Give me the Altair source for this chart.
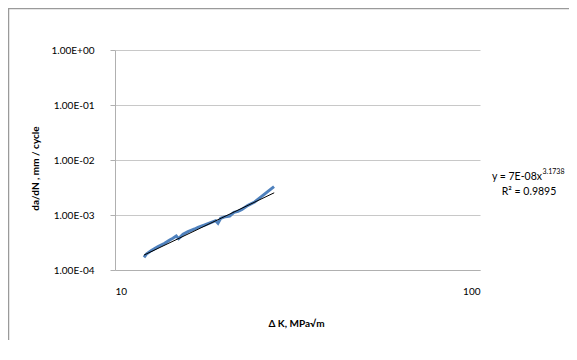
import altair as alt
import pandas as pd

dk = [12.01, 12.19, 12.58, 13.12, 13.68, 14.12, 14.41, 14.72, 14.94, 15.36, 15.85, 16.53,
      16.88, 17.61, 18.36, 18.87, 19.15, 19.48, 20.06, 20.62, 21.18, 21.73, 22.28, 23.14,
      24.13, 25.17, 26.25, 27.27]
dadn = [1.70e-4, 1.95e-4, 2.25e-4, 2.66e-4, 3.05e-4, 3.51e-4, 3.77e-4, 4.15e-4, 3.71e-4,
        4.45e-4, 4.98e-4, 5.57e-4, 5.97e-4, 6.58e-4, 7.36e-4, 7.88e-4, 7.10e-4, 8.70e-4,
        9.33e-4, 9.59e-4, 1.118e-3, 1.166e-3, 1.268e-3, 1.499e-3, 1.723e-3, 2.154e-3,
        2.694e-3, 3.274e-3]

# Power trendline end points
trend_x = [12.0, 27.3]
trend_y = [1.864e-4, 2.534e-3]

x_ticks = [10, 100]
y_ticks = [1e-4, 1e-3, 1e-2, 1e-1, 1]

eq_main = "y = 7E-08x"
eq_exp = "3.1738"
r2_text = "R² = 0.9895"

FONT = "Lato"

df = pd.DataFrame({"dk": dk, "dadn": dadn})
tf = pd.DataFrame({"dk": trend_x, "dadn": trend_y})

xscale = alt.Scale(type="log", domain=[10, 100])
yscale = alt.Scale(type="log", domain=[1e-4, 1])

xaxis = alt.Axis(values=x_ticks, format="d", grid=False, ticks=False,
                 domainColor="#b0b0b0", labelPadding=16, labelFontSize=10,
                 labelColor="#000000", labelFont=FONT,
                 title="Δ K,  MPa√m", titleFont=FONT, titleFontSize=10,
                 titleFontWeight="bold", titleColor="#000000",
                 titleX=181, titleY=53, titleBaseline="middle", titleAlign="center")
yaxis = alt.Axis(values=y_ticks,
                 labelExpr="'1.00E' + (round(log(datum.value)/LN10) < 0 ? '-' : '+') + '0' + abs(round(log(datum.value)/LN10))",
                 grid=True, gridColor="#c8c8c8", domainColor="#b0b0b0",
                 tickColor="#b0b0b0", tickSize=5, labelPadding=16,
                 labelFontSize=10, labelColor="#000000", labelFont=FONT,
                 title="da/dN , mm / cycle", titleFont=FONT, titleFontSize=10,
                 titleFontWeight="bold", titleColor="#000000",
                 titleX=-80, titleY=118, titleBaseline="middle", titleAlign="center",
                 titleAngle=270)

data_line = alt.Chart(df).mark_line(color="#4f81bd", strokeWidth=3).encode(
    x=alt.X("dk:Q", scale=xscale, axis=xaxis),
    y=alt.Y("dadn:Q", scale=yscale, axis=yaxis),
)

trend_line = alt.Chart(tf).mark_line(color="#000000", strokeWidth=1).encode(
    x=alt.X("dk:Q", scale=xscale),
    y=alt.Y("dadn:Q", scale=yscale),
)

eq1 = alt.Chart(pd.DataFrame({"t": [eq_main]})).mark_text(
    align="right", baseline="middle", font=FONT, fontSize=10.5, color="#000000"
).encode(text="t:N", x=alt.value(427), y=alt.value(127))
eq2 = alt.Chart(pd.DataFrame({"t": [eq_exp]})).mark_text(
    align="left", baseline="middle", font=FONT, fontSize=7, color="#000000"
).encode(text="t:N", x=alt.value(427.5), y=alt.value(122))
eq3 = alt.Chart(pd.DataFrame({"t": [r2_text]})).mark_text(
    align="center", baseline="middle", font=FONT, fontSize=10.5, color="#000000"
).encode(text="t:N", x=alt.value(414), y=alt.value(142))

frame = alt.Chart(pd.DataFrame({"a": [0]})).mark_rect(
    fill=None, stroke="#9a9a9a", strokeWidth=1.5
).encode(x=alt.value(-106.5), x2=alt.value(520), y=alt.value(-41.5), y2=alt.value(400))

chart = alt.layer(frame, data_line, trend_line, eq1, eq2, eq3).properties(
    width=365, height=220,
    autosize=alt.AutoSizeParams(type="none"),
    padding={"left": 107, "top": 42, "right": 89, "bottom": 70},
    background="#ffffff",
).configure_view(stroke=None)

chart.save("out.html", embed_options={"renderer": "svg", "actions": False})
